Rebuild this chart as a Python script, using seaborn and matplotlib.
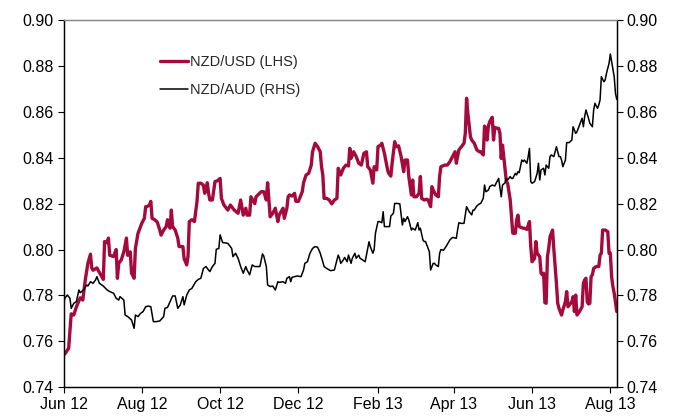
import pandas as pd
import matplotlib
matplotlib.use("Agg")
import matplotlib.pyplot as plt
import matplotlib.dates as mdates
import seaborn as sns

# dias desde 1 jun 2012 e cotações
start = pd.Timestamp("2012-06-01")

usd_days = [0, 1, 4, 6, 8, 10, 13, 15, 17, 19, 21, 22, 23, 26, 28, 31, 32, 34, 35, 36,
            39, 41, 42, 43, 45, 47, 49, 50, 52, 53, 55, 56, 58, 61, 63, 64, 65, 67, 68, 69,
            71, 73, 75, 76, 78, 80, 81, 83, 84, 85, 87, 89, 90, 93, 94, 96, 97, 98, 100, 102,
            104, 105, 107, 109, 110, 112, 113, 114, 116, 118, 120, 122, 123, 125, 128, 130, 133, 136, 138, 140,
            142, 143, 145, 146, 149, 150, 154, 156, 158, 159, 161, 163, 165, 167, 168, 171, 172, 174, 175, 176,
            178, 180, 181, 183, 186, 187, 189, 191, 193, 194, 196, 198, 200, 201, 202, 203, 205, 207, 209, 211,
            213, 214, 216, 218, 220, 222, 223, 224, 226, 228, 230, 232, 234, 236, 237, 239, 241, 242, 244, 245,
            247, 248, 250, 252, 253, 255, 256, 258, 259, 261, 263, 265, 266, 268, 269, 271, 272, 273, 275, 277,
            278, 279, 281, 283, 284, 286, 287, 288, 290, 292, 293, 294, 297, 299, 301, 303, 305, 306, 308, 310,
            312, 313, 314, 315, 317, 318, 320, 322, 324, 325, 327, 328, 329, 330, 331, 332, 334, 335, 336, 338,
            339, 340, 341, 342, 344, 345, 346, 348, 349, 350, 352, 353, 354, 355, 358, 359, 361, 363, 364, 365,
            367, 368, 369, 371, 372, 373, 374, 375, 376, 377, 378, 379, 381, 382, 384, 385, 386, 388, 389, 391,
            392, 393, 395, 396, 397, 398, 399, 400, 402, 404, 405, 406, 407, 408, 409, 410, 411, 412, 413, 415,
            417, 418, 419, 420, 422, 424, 425, 426, 427, 428, 429, 431]
usd_vals = [0.7548, 0.7545, 0.757, 0.772, 0.7715, 0.775, 0.779, 0.778, 0.787, 0.794, 0.798, 0.792, 0.791, 0.792, 0.790, 0.787, 0.8035, 0.803, 0.805, 0.7975,
            0.797, 0.800, 0.7875, 0.794, 0.7955, 0.799, 0.805, 0.7975, 0.799, 0.7897, 0.7875, 0.8005, 0.807, 0.8115, 0.8136, 0.8187, 0.8187, 0.8194, 0.821, 0.8136,
            0.813, 0.812, 0.8085, 0.8063, 0.8085, 0.810, 0.813, 0.8093, 0.8172, 0.810, 0.8085, 0.805, 0.8013, 0.8013, 0.796, 0.7933, 0.797, 0.8122, 0.813, 0.8122,
            0.821, 0.8289, 0.8289, 0.828, 0.8245, 0.8291, 0.8245, 0.8216, 0.8216, 0.8296, 0.830, 0.831, 0.8223, 0.8194, 0.8172, 0.8194, 0.8172, 0.8158, 0.8216, 0.815,
            0.818, 0.815, 0.815, 0.823, 0.820, 0.823, 0.8252, 0.8252, 0.8216, 0.8291, 0.8143, 0.8158, 0.818, 0.8122, 0.815, 0.818, 0.8136, 0.818, 0.823, 0.8238,
            0.8233, 0.8245, 0.821, 0.821, 0.8252, 0.8291, 0.8325, 0.8332, 0.8368, 0.8426, 0.8463, 0.8448, 0.8426, 0.8361, 0.8325, 0.8223, 0.8223, 0.8216, 0.8199, 0.8216,
            0.8223, 0.8354, 0.8325, 0.8354, 0.8368, 0.8364, 0.8441, 0.8397, 0.8426, 0.8405, 0.8376, 0.8368, 0.8419, 0.8426, 0.8361, 0.8347, 0.8289, 0.8361, 0.8347, 0.8448,
            0.8455, 0.8463, 0.8419, 0.8361, 0.8335, 0.832, 0.8376, 0.847, 0.8448, 0.8452, 0.8405, 0.8339, 0.839, 0.839, 0.8318, 0.8238, 0.8303, 0.823, 0.823, 0.8245,
            0.8318, 0.8223, 0.8216, 0.8219, 0.8216, 0.8187, 0.8274, 0.8259, 0.8238, 0.823, 0.8318, 0.8361, 0.8368, 0.8368, 0.8383, 0.8405, 0.8426, 0.8376, 0.8434, 0.8448,
            0.8463, 0.8506, 0.8659, 0.8593, 0.8492, 0.8477, 0.8463, 0.8434, 0.8426, 0.8426, 0.8412, 0.8538, 0.8521, 0.8477, 0.8538, 0.8557, 0.8576, 0.8477, 0.8532, 0.8528,
            0.8528, 0.8506, 0.8397, 0.8455, 0.8347, 0.8296, 0.8289, 0.8216, 0.8143, 0.8071, 0.8071, 0.8129, 0.815, 0.810, 0.8093, 0.8093, 0.8088, 0.8122, 0.8013, 0.7947,
            0.7962, 0.8035, 0.7984, 0.7969, 0.7897, 0.789, 0.7897, 0.7769, 0.7766, 0.7969, 0.8005, 0.8056, 0.8085, 0.800, 0.7853, 0.7766, 0.7744, 0.7715, 0.7737, 0.7773,
            0.7817, 0.7751, 0.7766, 0.7773, 0.7795, 0.773, 0.7802, 0.7715, 0.773, 0.7751, 0.7853, 0.7868, 0.7875, 0.7773, 0.7763, 0.7766, 0.7882, 0.789, 0.7918, 0.7926,
            0.7926, 0.7976, 0.7984, 0.8085, 0.8085, 0.8078, 0.7984, 0.7984, 0.7882, 0.7839, 0.781, 0.773]

aud_days = [0, 1, 3, 5, 6, 8, 10, 12, 13, 16, 18, 19, 21, 23, 25, 26, 28, 31, 34, 36,
            39, 41, 43, 44, 47, 48, 50, 53, 55, 56, 58, 60, 62, 64, 66, 68, 70, 72, 75, 78,
            79, 81, 83, 85, 87, 89, 91, 93, 94, 96, 98, 100, 103, 105, 107, 109, 111, 112, 114, 116,
            118, 119, 121, 122, 124, 125, 128, 131, 132, 134, 136, 138, 140, 142, 143, 145, 147, 149, 151, 153,
            155, 156, 158, 159, 161, 163, 165, 167, 168, 171, 173, 174, 176, 177, 178, 180, 182, 185, 187, 188,
            190, 192, 194, 196, 198, 200, 202, 203, 205, 208, 211, 212, 214, 215, 216, 218, 219, 221, 222, 224,
            225, 227, 228, 230, 231, 233, 235, 237, 238, 239, 241, 242, 243, 245, 246, 248, 249, 250, 252, 254,
            255, 257, 258, 260, 262, 264, 265, 266, 268, 269, 271, 272, 274, 276, 277, 278, 280, 281, 282, 284,
            285, 286, 288, 289, 290, 292, 293, 294, 296, 298, 301, 303, 306, 307, 308, 310, 312, 313, 314, 316,
            318, 319, 320, 322, 324, 325, 327, 328, 329, 331, 332, 334, 336, 337, 339, 341, 342, 344, 345, 346,
            348, 349, 350, 352, 353, 354, 355, 357, 358, 359, 361, 362, 363, 364, 365, 367, 369, 370, 371, 372,
            374, 375, 376, 378, 379, 380, 382, 383, 384, 386, 387, 388, 389, 391, 392, 394, 396, 397, 399, 400,
            401, 402, 404, 405, 406, 407, 409, 410, 412, 413, 414, 416, 417, 418, 419, 421, 422, 423, 425, 426,
            427, 429, 430, 431]
aud_vals = [0.7759, 0.7788, 0.7802, 0.7788, 0.7744, 0.7766, 0.7773, 0.7824, 0.7812, 0.7827, 0.7846, 0.7841, 0.786, 0.7853, 0.7868, 0.7882, 0.7853, 0.7841, 0.7824, 0.7817,
            0.781, 0.7788, 0.778, 0.7795, 0.778, 0.7715, 0.7708, 0.7693, 0.7657, 0.7715, 0.7708, 0.7722, 0.773, 0.7751, 0.7754, 0.7751, 0.7686, 0.7686, 0.7689, 0.7708,
            0.7744, 0.7748, 0.7773, 0.7798, 0.7798, 0.7744, 0.7759, 0.7795, 0.7759, 0.7802, 0.7824, 0.7831, 0.786, 0.787, 0.7875, 0.7918, 0.7926, 0.7918, 0.7904, 0.7926,
            0.794, 0.8001, 0.8005, 0.8064, 0.803, 0.803, 0.8027, 0.8005, 0.7969, 0.7984, 0.7962, 0.7926, 0.7897, 0.7926, 0.7911, 0.789, 0.7933, 0.7926, 0.7926, 0.7926,
            0.7981, 0.7972, 0.7926, 0.7846, 0.7839, 0.7841, 0.7824, 0.786, 0.7857, 0.786, 0.7853, 0.7875, 0.7882, 0.786, 0.7879, 0.7882, 0.7885, 0.7882, 0.7911, 0.794,
            0.7947, 0.7984, 0.8005, 0.8013, 0.801, 0.7984, 0.7947, 0.7926, 0.7918, 0.7908, 0.7911, 0.7933, 0.7976, 0.7962, 0.794, 0.7955, 0.7966, 0.7947, 0.7976, 0.794,
            0.7962, 0.7984, 0.7962, 0.7976, 0.7962, 0.7955, 0.7947, 0.8005, 0.8034, 0.8013, 0.7984, 0.800, 0.8071, 0.8122, 0.8122, 0.8117, 0.8165, 0.810, 0.810, 0.810,
            0.8146, 0.8158, 0.8201, 0.8201, 0.8199, 0.8107, 0.8136, 0.8122, 0.8143, 0.8129, 0.8085, 0.8093, 0.8085, 0.8117, 0.8085, 0.8093, 0.8042, 0.8035, 0.8035, 0.8005,
            0.7991, 0.7911, 0.794, 0.794, 0.7933, 0.7926, 0.7984, 0.800, 0.7997, 0.8013, 0.8042, 0.8053, 0.8049, 0.8085, 0.8117, 0.8114, 0.8114, 0.8151, 0.8187, 0.8165,
            0.8151, 0.8172, 0.8172, 0.819, 0.8199, 0.8201, 0.8223, 0.8281, 0.8252, 0.8259, 0.8274, 0.8281, 0.8277, 0.8289, 0.831, 0.823, 0.8281, 0.8291, 0.831, 0.8303,
            0.8318, 0.831, 0.831, 0.8332, 0.8325, 0.8339, 0.8335, 0.839, 0.8383, 0.839, 0.8376, 0.8405, 0.8441, 0.8296, 0.8289, 0.8296, 0.8332, 0.8376, 0.8303, 0.8347,
            0.8354, 0.8325, 0.8368, 0.8354, 0.8405, 0.8412, 0.8405, 0.8426, 0.8448, 0.8405, 0.8405, 0.839, 0.8361, 0.839, 0.8466, 0.8466, 0.8477, 0.8535, 0.8506, 0.8513,
            0.8528, 0.8543, 0.8572, 0.8535, 0.8579, 0.8608, 0.8572, 0.855, 0.8535, 0.8608, 0.8637, 0.8615, 0.863, 0.8652, 0.8753, 0.8731, 0.8739, 0.8768, 0.8811, 0.8852,
            0.8819, 0.8753, 0.868, 0.8654]

usd_label = "NZD/USD (LHS)"
aud_label = "NZD/AUD (RHS)"
y_ticks = [0.74, 0.76, 0.78, 0.80, 0.82, 0.84, 0.86, 0.88, 0.90]

df_usd = pd.DataFrame({"Data": start + pd.to_timedelta(usd_days, unit="D"), "Valor": usd_vals})
df_aud = pd.DataFrame({"Data": start + pd.to_timedelta(aud_days, unit="D"), "Valor": aud_vals})

sns.set_theme(style="white")
plt.rcParams["font.family"] = ["Liberation Sans", "DejaVu Sans"]

fig = plt.figure(figsize=(6.8, 4.18), dpi=100)
ax = fig.add_axes([0.0934, 0.0734, 0.8136, 0.8788])
ax2 = ax.twinx()

red = "#A50A3C"
sns.lineplot(data=df_usd, x="Data", y="Valor", ax=ax, color=red, linewidth=2.4,
             estimator=None, sort=False, label=usd_label, legend=False)
sns.lineplot(data=df_aud, x="Data", y="Valor", ax=ax2, color="black", linewidth=1.1,
             estimator=None, sort=False, label=aud_label, legend=False)

for a in (ax, ax2):
    a.set_ylim(0.74, 0.90)
    a.set_yticks(y_ticks)
    a.set_yticklabels([f"{v:.2f}" for v in y_ticks])
    a.set_xlabel("")
    a.set_ylabel("")
    a.tick_params(axis="both", direction="out", length=4, width=0.8, colors="black",
                  labelsize=11.5, pad=3)

ax.set_xlim(start, pd.Timestamp("2013-08-06"))
ax.xaxis.set_major_locator(mdates.MonthLocator(bymonth=[2, 4, 6, 8, 10, 12]))
ax.xaxis.set_major_formatter(mdates.DateFormatter("%b %y"))
ax.tick_params(axis="y", left=True)
ax2.tick_params(axis="y", right=True)
ax.tick_params(axis="x", bottom=True)

for a in (ax, ax2):
    for side in ["left", "right", "bottom"]:
        a.spines[side].set_color("black")
        a.spines[side].set_linewidth(0.9)
    a.spines["top"].set_color("#888888")
    a.spines["top"].set_linewidth(0.9)

h1, l1 = ax.get_legend_handles_labels()
h2, l2 = ax2.get_legend_handles_labels()
fig.legend(h1 + h2, l1 + l2, loc="upper left", bbox_to_anchor=(0.235, 0.869),
           frameon=False, fontsize=10.5, handlelength=1.95, handletextpad=0.12,
           borderpad=0, borderaxespad=0, labelspacing=1.0)

plt.savefig("out.png", dpi=100)
